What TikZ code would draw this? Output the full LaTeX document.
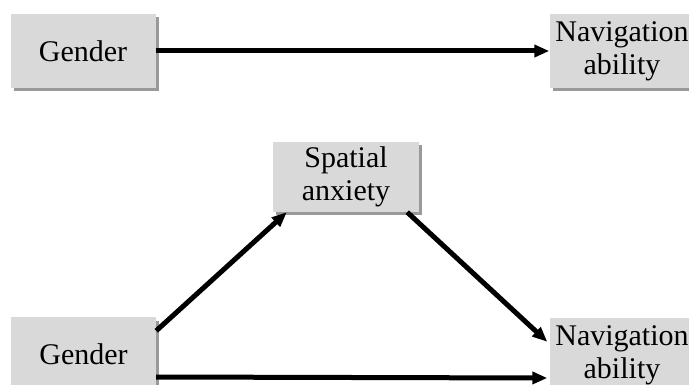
\documentclass[tikz,border=0pt]{standalone}
\usepackage{fontspec}
\setmainfont{Liberation Serif}
\usetikzlibrary{arrows.meta,shadows}
\tikzset{
  box/.style={fill=black!15, draw=none, minimum width=145pt, minimum height=74pt,
    inner sep=0pt, align=center, font=\fontsize{30}{33}\selectfont,
    drop shadow={shadow xshift=3pt, shadow yshift=-3.5pt, fill=black!80}},
  link/.style={line width=5pt, -{Triangle[length=15pt,width=12pt]}}
}
\begin{document}
\begin{tikzpicture}[x=1pt,y=-1pt]
\useasboundingbox (0,0) rectangle (689,385);
% top model
\node[box] (g1) at (83,51) {Gender};
\node[box] (n1) at (622,51) {Navigation\\ability};
% bottom model
\node[box, minimum width=146pt, minimum height=70pt] (sp) at (346,177) {Spatial\\anxiety};
\node[box] (g2) at (83.5,354) {\raisebox{-4pt}{Gender}};
\node[box] (n2) at (622,355) {Navigation\\ability};
% connectors
\draw[link] (g1.east) -- (n1.west);
\draw[link] ([yshift=-14pt]g2.north east) -- ([xshift=14pt]sp.south west);
\draw[link] ([xshift=-12pt]sp.south east) -- ([xshift=-2pt,yshift=-24pt]n2.north west);
\draw[link] ([yshift=-23pt]g2.east) -- ([yshift=-23pt,xshift=-2pt]n2.west);
\end{tikzpicture}
\end{document}
